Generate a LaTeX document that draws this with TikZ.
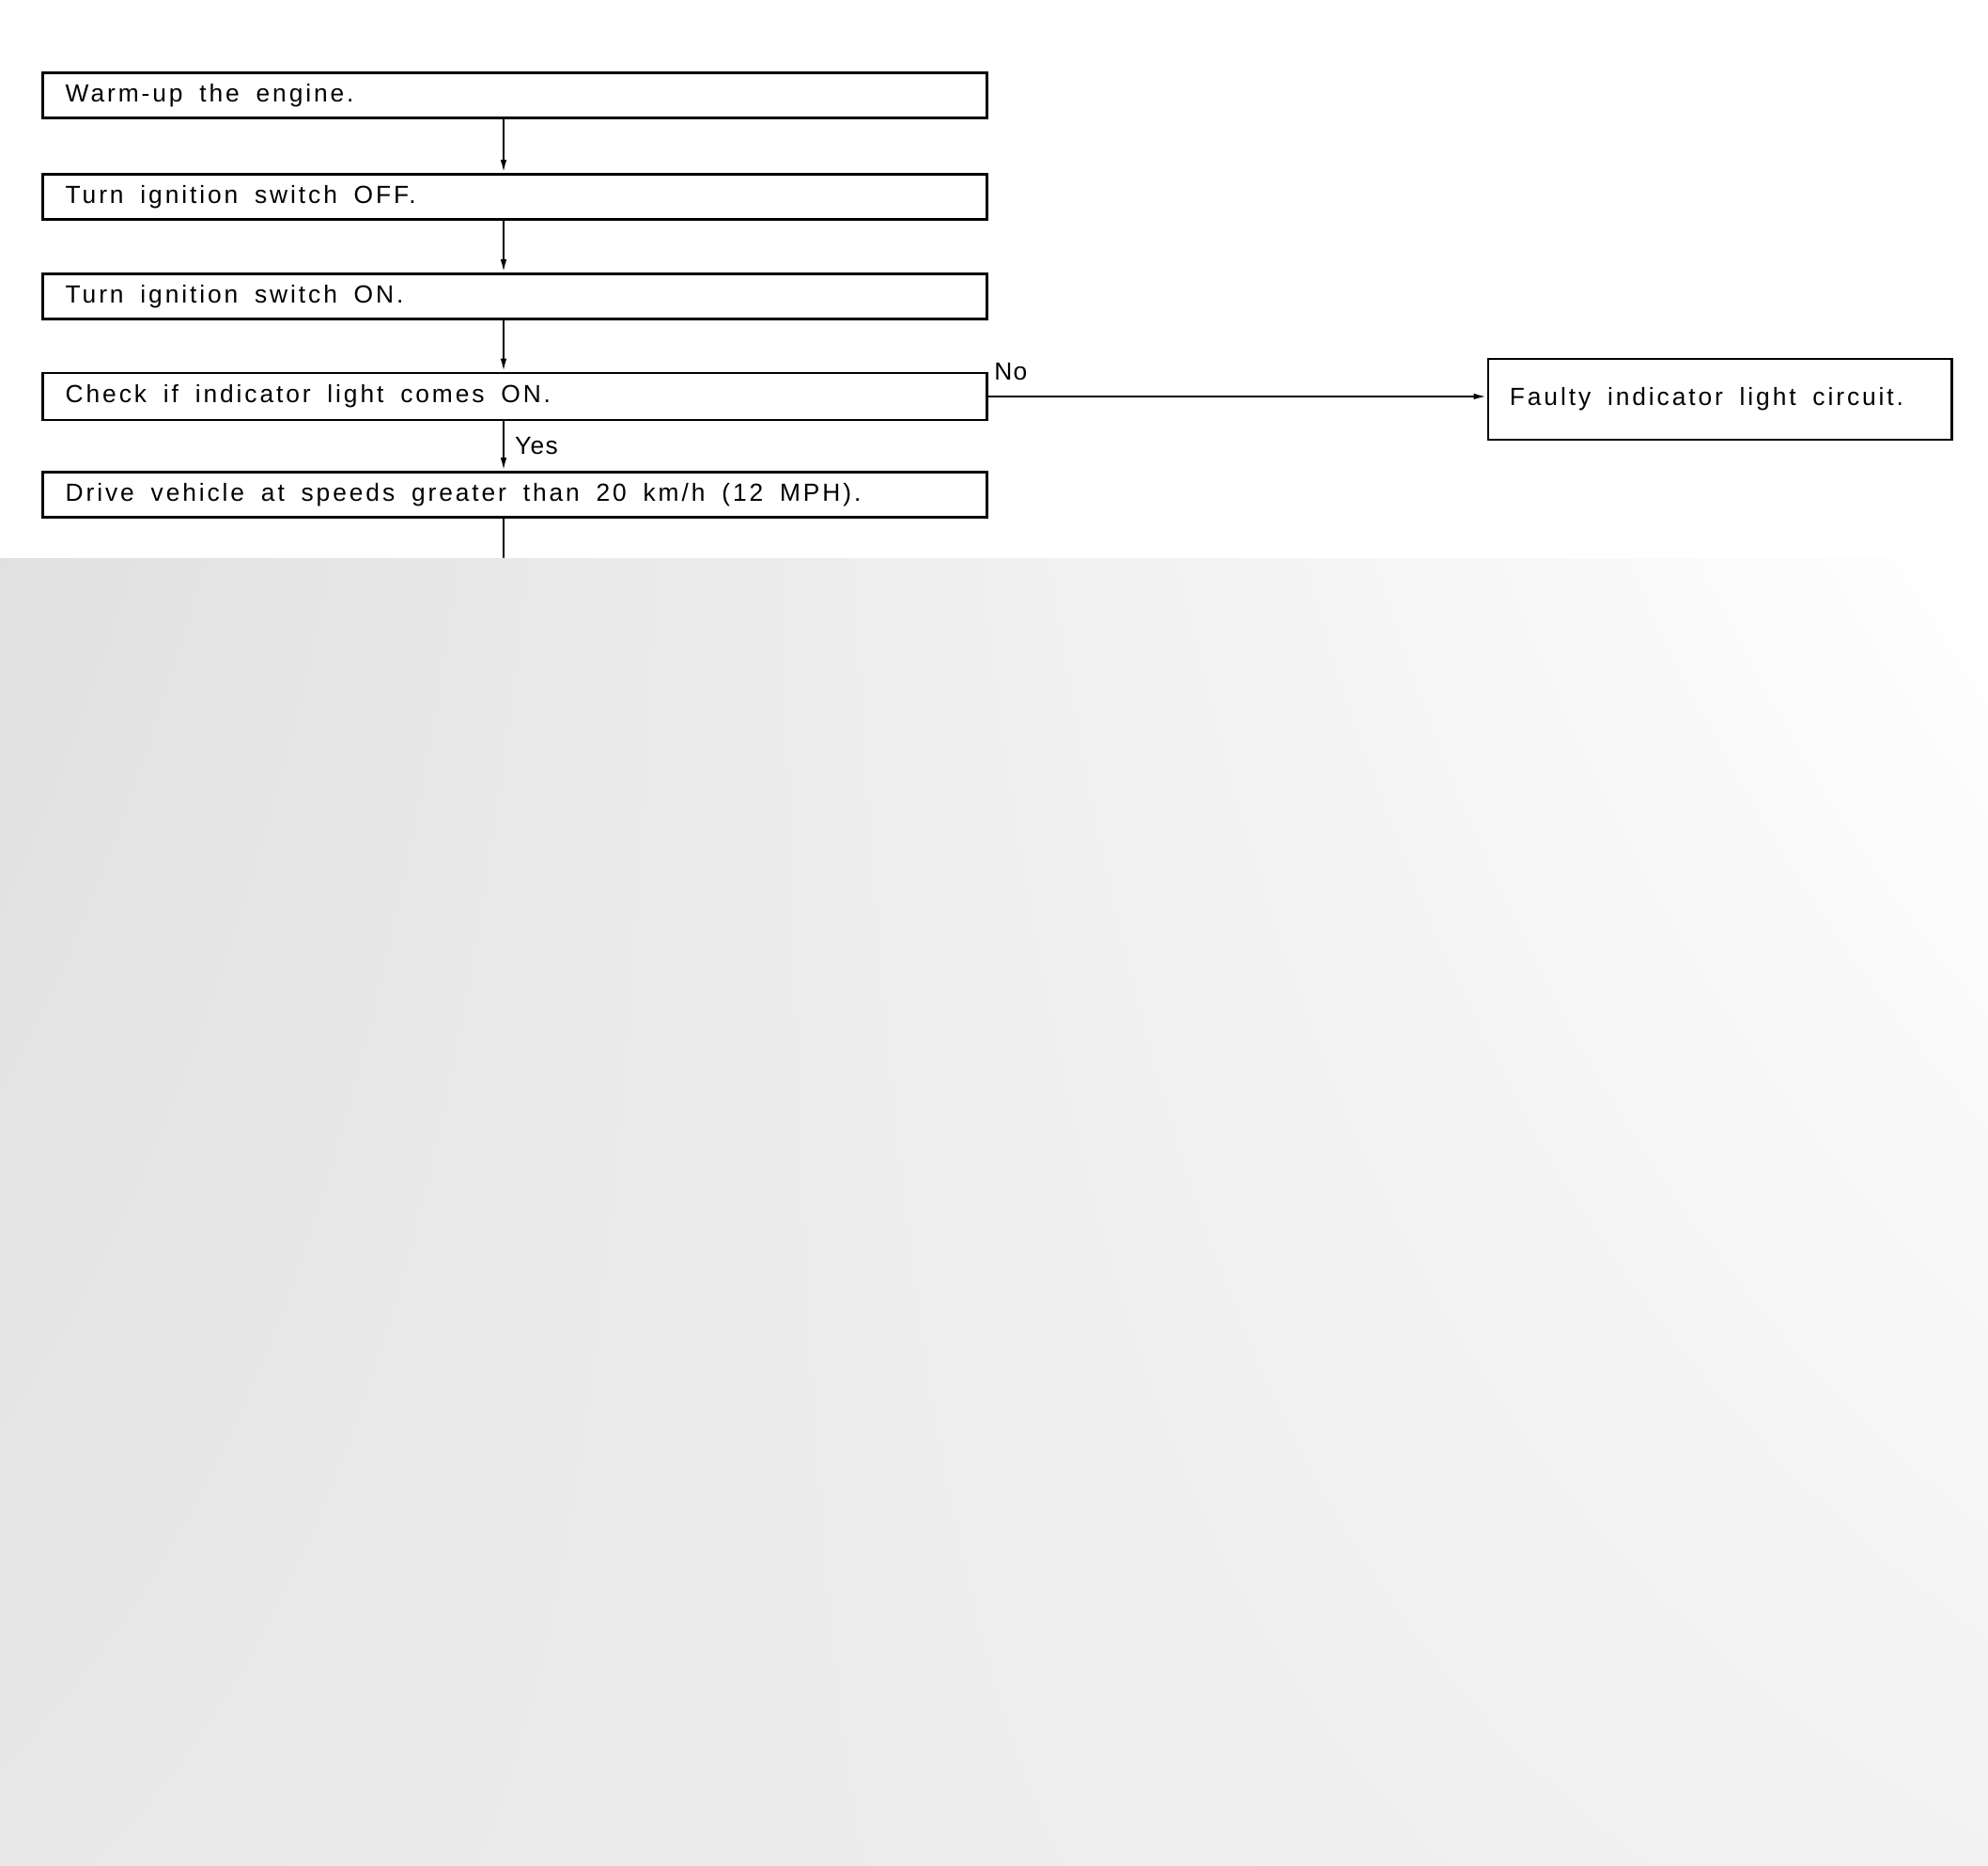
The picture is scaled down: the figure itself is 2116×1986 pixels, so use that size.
\documentclass[tikz,border=0pt]{standalone}
\usepackage{fontspec}
\setmainfont{Liberation Sans}[LetterSpace=11]
\newfontfamily\biaofont{Liberation Sans}[LetterSpace=5]
\usetikzlibrary{arrows.meta,shadings}
\newcommand{\kuangfont}{\fontsize{7.5}{9}\selectfont}
\newcommand{\kuangspace}{\spaceskip=0.178cm\relax}
\begin{document}
\begin{tikzpicture}[x=0.01cm,y=-0.01cm,line cap=round]
	\tikzstyle{kuang}=[draw,line width=0.75pt,minimum width=10.04cm,minimum height=0.48cm,inner xsep=0.24cm,inner ysep=0pt,text width=9.56cm,align=left,font=\kuangfont,execute at begin node=\kuangspace];
	\tikzstyle{jian}=[line width=0.6pt,-{Latex[length=0.14cm,width=0.065cm]}];
	\tikzstyle{biao}=[font=\biaofont\fontsize{7.5}{9}\selectfont,inner sep=0pt];

	\useasboundingbox (0,0) rectangle (2116,1986);
	\shade[upper left=black!12,upper right=white,lower left=black!9,lower right=black!5] (0,595) rectangle (2116,1986);

	\node[kuang] (warm)  at (548,101.5) {Warm-up the engine.};
	\node[kuang] (off)   at (548,209.5) {Turn ignition switch OFF.};
	\node[kuang] (on)    at (548,315.5) {Turn ignition switch ON.};
	\node[kuang,minimum height=0.5cm] (check) at (548,422) {Check if indicator light comes ON.};
	\node[kuang] (drive) at (548,526.5) {Drive vehicle at speeds greater than 20 km/h (12 MPH).};
	\node[kuang,minimum width=4.93cm,minimum height=0.86cm,inner xsep=0.23cm,text width=4.47cm] (faulty) at (1830.5,425) {Faulty indicator light circuit.};

	\coordinate (spine) at (536,0);
	\coordinate (cut) at (536,593);
	\draw[jian] (warm.south -| spine) -- (off.north -| spine);
	\draw[jian] (off.south -| spine) -- (on.north -| spine);
	\draw[jian] (on.south -| spine) -- (check.north -| spine);
	\draw[jian] (check.south -| spine) -- node[biao,right=0.11cm] {Yes} (drive.north -| spine);
	\draw[line width=0.6pt] (drive.south -| spine) -- (cut);
	\draw[jian] (check.east) -- (check.east -| faulty.west);
	\node[biao,anchor=west] (no) at ([xshift=0.06cm]check.north east) {No};
\end{tikzpicture}
\end{document}
